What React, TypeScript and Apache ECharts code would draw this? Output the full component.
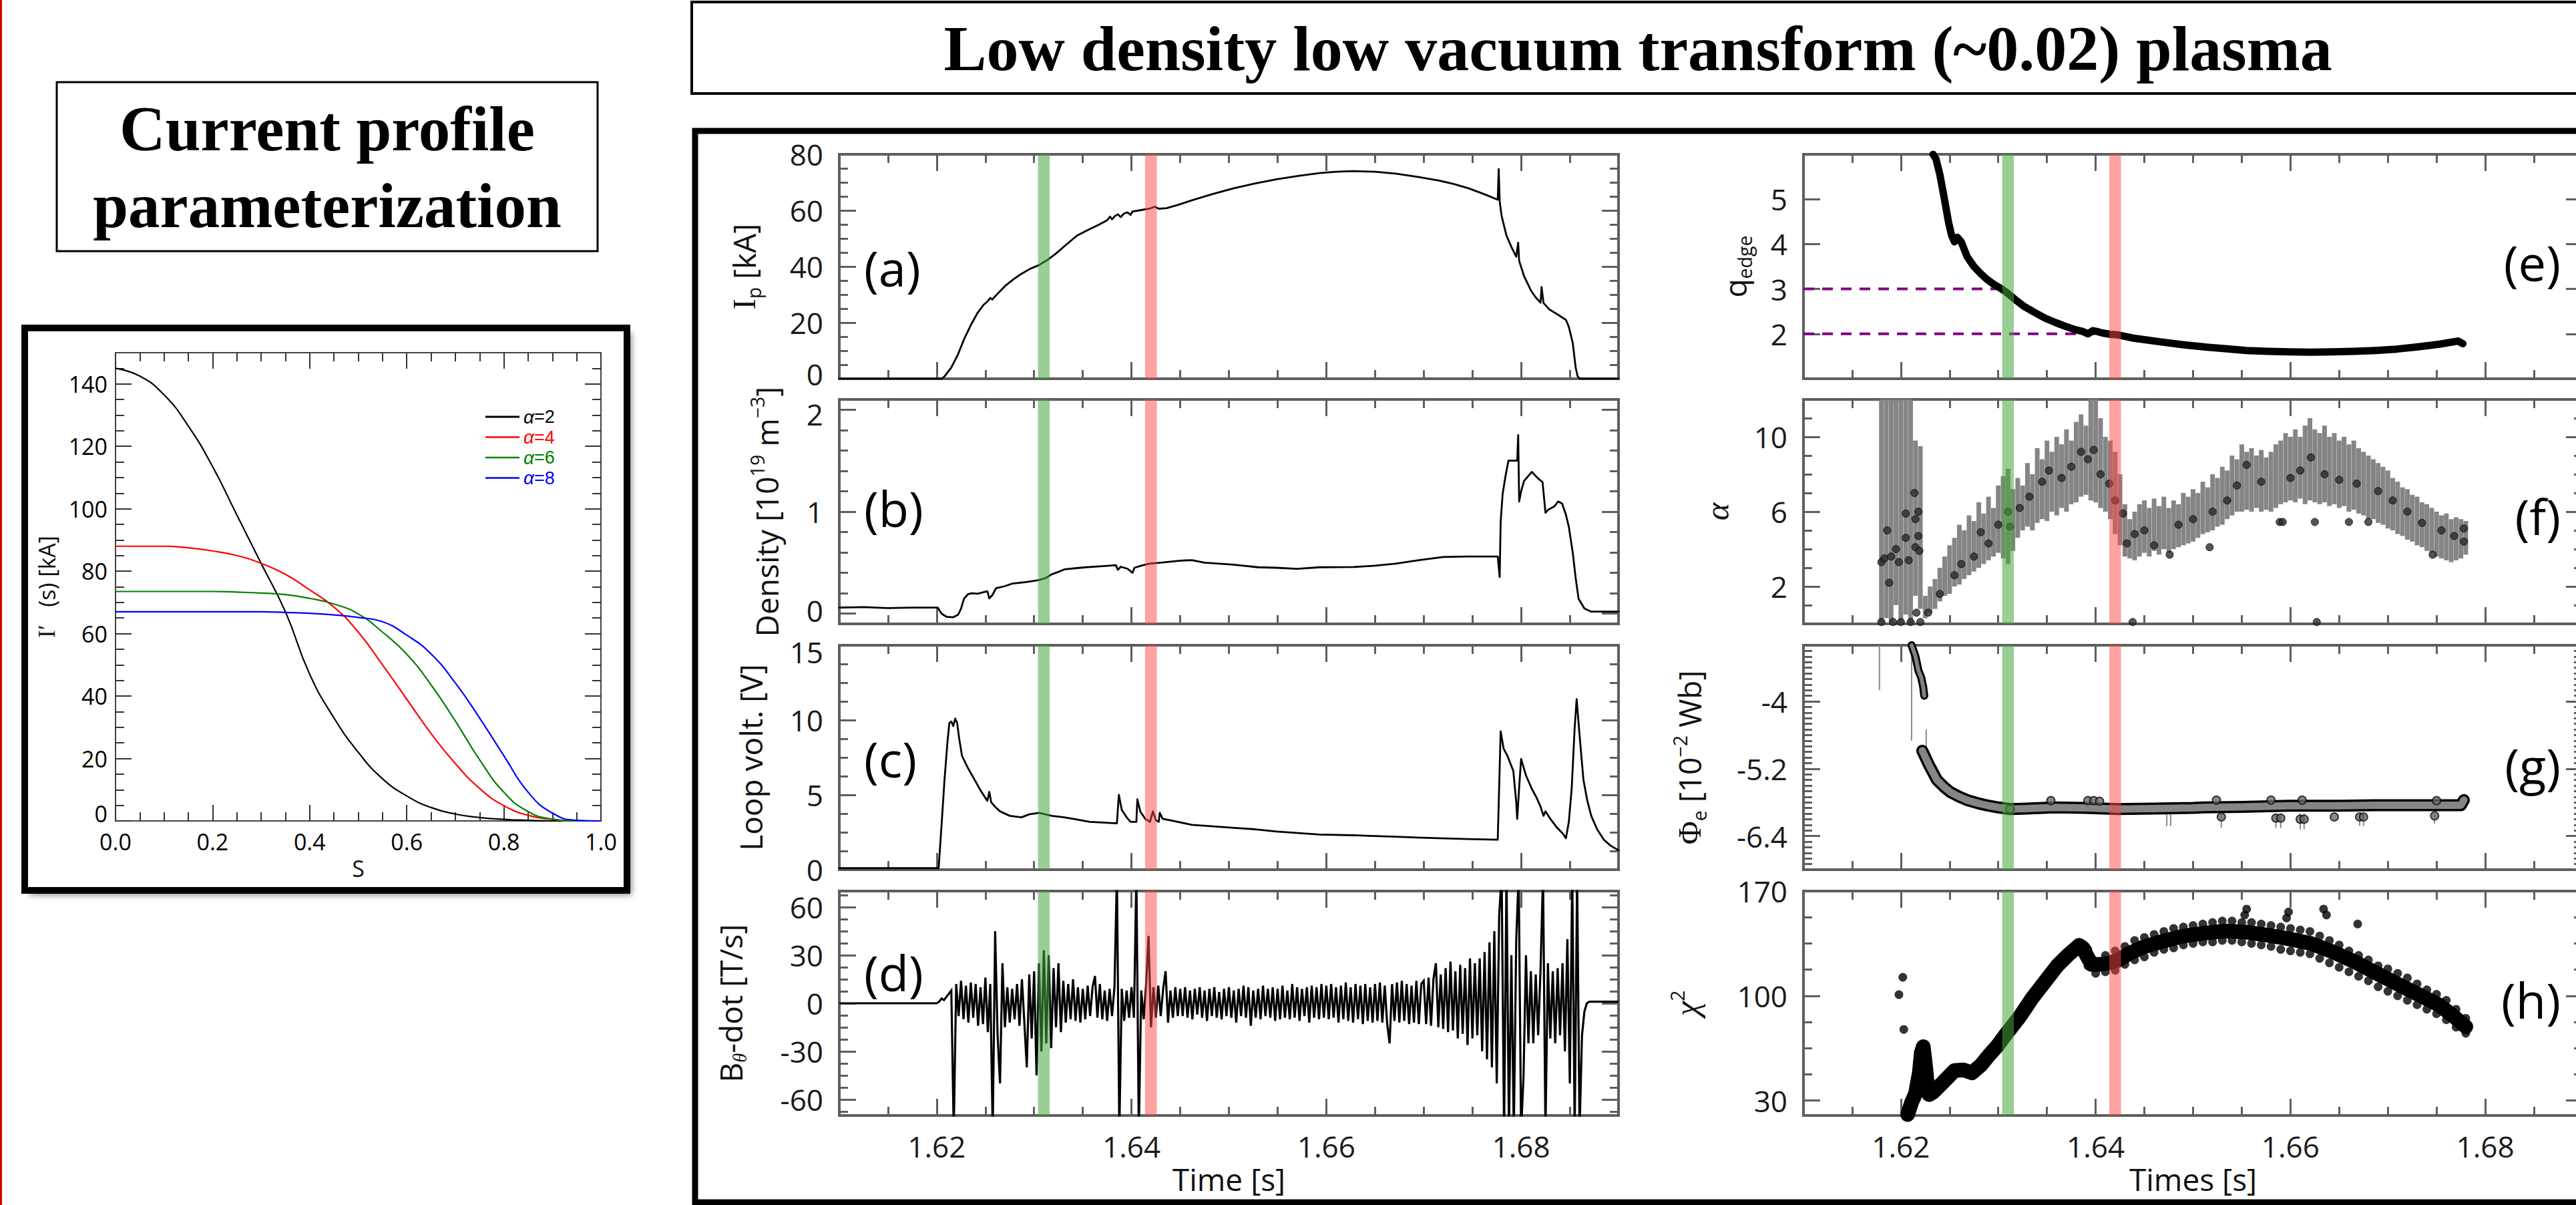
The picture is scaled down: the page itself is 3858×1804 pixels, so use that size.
import React, { useEffect, useRef } from 'react';
import * as echarts from 'echarts';

const W = 3858;
const H = 1804;

// ---------------- Inset: current profile parameterization ----------------
const sValues = [0, 0.05, 0.1, 0.15, 0.2, 0.25, 0.3, 0.35, 0.4, 0.45, 0.5, 0.55, 0.6, 0.65, 0.7, 0.75, 0.8, 0.85, 0.9, 0.95, 1.0];
const profileAlpha2 = [145, 142.5, 136.5, 126.5, 113.5, 98, 82.5, 67, 47, 33, 22, 13.5, 8, 4.3, 2.2, 1.1, 0.5, 0.2, 0, 0, 0];
const profileAlpha4 = [88, 88, 88, 87.5, 86.5, 85, 82.5, 79, 74, 68.5, 60.5, 50, 39, 28, 18.4, 10.4, 4.9, 1.8, 0.5, 0, 0];
const profileAlpha6 = [73.5, 73.5, 73.5, 73.5, 73.5, 73.3, 73, 72.5, 71.3, 69.5, 66.3, 60.5, 53.4, 43.6, 32, 19.6, 9.2, 3, 0.6, 0, 0];
const profileAlpha8 = [67, 67, 67, 67, 67, 67, 67, 66.8, 66.5, 66, 65.2, 63.8, 59.5, 53.5, 44.2, 33, 20.9, 9.2, 2.5, 0.2, 0];
const profileNames = ['α=2', 'α=4', 'α=6', 'α=8'];
const profileColors = ['#000000', '#ff0000', '#008000', '#0000ff'];

// ---------------- (a) plasma current [kA] ----------------
const ipTrace = [[1.61,0],[1.6205,0],[1.6208,0.8],[1.6215,4],[1.6222,8.8],[1.6228,14],[1.6235,19.1],[1.6242,23.5],[1.6248,26.3],[1.6252,27.5],[1.6255,28.8],[1.6257,28.2],[1.6259,29.0],[1.6263,30.5],[1.627,33],[1.6279,35.5],[1.6287,37.4],[1.6296,39.2],[1.6305,40.5],[1.6313,42.2],[1.6322,44.5],[1.6333,47.8],[1.6344,51],[1.6355,53],[1.6366,54.8],[1.6375,56.5],[1.6378,57.8],[1.638,56.8],[1.6383,58],[1.6386,58.6],[1.6389,57.6],[1.6392,58.8],[1.6396,59.3],[1.6399,58.4],[1.6401,59.6],[1.6408,60],[1.6418,60.6],[1.6424,61.3],[1.6428,60.6],[1.6436,60.8],[1.6448,62],[1.6462,63.6],[1.6483,65.8],[1.6505,67.9],[1.6527,69.6],[1.6549,71.1],[1.6571,72.3],[1.6593,73.3],[1.661,73.8],[1.6628,74],[1.665,73.8],[1.6671,73.1],[1.6693,72.0],[1.6715,70.7],[1.673,69.5],[1.6746,67.9],[1.6762,65.8],[1.6776,63.8],[1.6777,74.7],[1.6778,63.2],[1.678,58],[1.6785,51],[1.679,47],[1.6795,43.5],[1.6797,48.5],[1.6798,42],[1.6803,36.6],[1.681,31.5],[1.6815,29],[1.682,27.1],[1.6821,32.7],[1.6823,27],[1.6829,24.7],[1.6838,22.8],[1.6846,21],[1.6849,18.5],[1.6853,12.8],[1.6856,4],[1.6858,0.9],[1.686,0],[1.69,0]];

// ---------------- (b) density [1e19 m^-3] ----------------
const densityTrace = [[1.61,0.06],[1.6125,0.065],[1.615,0.055],[1.6175,0.06],[1.6201,0.06],[1.6205,0.0],[1.621,-0.03],[1.6217,-0.035],[1.6222,-0.01],[1.6225,0.05],[1.6228,0.146],[1.6232,0.19],[1.6236,0.2],[1.6242,0.195],[1.6248,0.21],[1.6252,0.22],[1.6254,0.15],[1.6257,0.18],[1.6261,0.25],[1.627,0.27],[1.6278,0.296],[1.6292,0.31],[1.6305,0.33],[1.6312,0.35],[1.6318,0.385],[1.6325,0.41],[1.6331,0.434],[1.6342,0.445],[1.6353,0.455],[1.637,0.465],[1.6384,0.475],[1.6386,0.43],[1.6389,0.46],[1.6396,0.44],[1.6401,0.4],[1.6403,0.45],[1.641,0.47],[1.6418,0.49],[1.643,0.5],[1.645,0.52],[1.6462,0.525],[1.6475,0.5],[1.6505,0.48],[1.653,0.455],[1.6549,0.45],[1.657,0.44],[1.6593,0.455],[1.6628,0.457],[1.665,0.47],[1.6671,0.49],[1.6695,0.525],[1.672,0.555],[1.6745,0.56],[1.6776,0.56],[1.6778,0.36],[1.6779,0.9],[1.6781,1.17],[1.6784,1.35],[1.6787,1.5],[1.6796,1.5],[1.6797,1.75],[1.6798,1.1],[1.68,1.2],[1.6803,1.3],[1.6811,1.39],[1.6817,1.33],[1.6822,1.29],[1.6825,0.99],[1.6828,1.02],[1.6834,1.05],[1.6838,1.1],[1.6842,1.08],[1.6846,0.97],[1.6849,0.85],[1.6853,0.6],[1.6856,0.35],[1.6859,0.146],[1.6865,0.05],[1.6872,0.02],[1.69,0.02]];

// ---------------- (c) loop voltage [V] ----------------
const loopTrace = [[1.61,0.1],[1.6202,0.1],[1.6205,3],[1.6208,6],[1.6211,8.5],[1.6213,9.8],[1.6215,9.9],[1.6217,9.6],[1.6219,10.1],[1.6221,9.8],[1.6223,8.8],[1.6226,7.6],[1.6232,6.8],[1.6239,6.0],[1.6245,5.3],[1.6252,4.6],[1.6254,5.2],[1.6256,4.5],[1.626,4.2],[1.6265,3.9],[1.6275,3.6],[1.6287,3.5],[1.6295,3.7],[1.6305,3.8],[1.6318,3.6],[1.6331,3.5],[1.6344,3.35],[1.6357,3.2],[1.637,3.15],[1.6385,3.1],[1.6387,5.0],[1.639,4.0],[1.6395,3.5],[1.6399,3.2],[1.6405,3.2],[1.6406,4.7],[1.6409,3.9],[1.6414,3.4],[1.6419,3.2],[1.6422,3.9],[1.6425,3.3],[1.6428,3.2],[1.6429,3.8],[1.6432,3.4],[1.644,3.3],[1.6462,3.0],[1.6484,2.9],[1.6505,2.8],[1.6527,2.7],[1.6549,2.55],[1.6571,2.45],[1.6593,2.35],[1.6628,2.3],[1.665,2.25],[1.6671,2.2],[1.6693,2.15],[1.6715,2.1],[1.6745,2.05],[1.6776,2.0],[1.6779,9.25],[1.6782,8.1],[1.6786,7.6],[1.6792,6.6],[1.6795,4.5],[1.6796,3.4],[1.6798,5.5],[1.68,7.4],[1.6805,6.3],[1.6811,5.4],[1.6816,4.8],[1.682,4.2],[1.6823,3.6],[1.6825,3.9],[1.683,3.4],[1.6837,2.8],[1.6843,2.4],[1.6846,2.1],[1.6849,3.2],[1.6852,5.5],[1.6855,9.5],[1.6857,11.4],[1.686,9.0],[1.6864,6.0],[1.6868,4.6],[1.6872,3.6],[1.6878,2.7],[1.6885,2.0],[1.6892,1.6],[1.69,1.3]];

// ---------------- (d) B_theta-dot [T/s], sampled every 0.25 ms from 1.620 s ----------------
const bdotLead = [[1.61, 0], [1.6195, 0]];
const bdotStart = 1.62;
const bdotStep = 0.00025;
const bdotValues = [
  0, 1, 3, 2, 4, 6, 8, -80, 12, -8, 14, -10, 11, -12, 13, -9, 12, -14, 10, -13,
  16, -18, 12, -80, 45, -20, -50, 25, -15, 10, -12, 9, -10, 12, -14, 15, -12, -40, 18, -22,
  20, -45, 25, -30, 33, -25, 30, -28, 22, -15, 25, -18, 14, -12, 12, -10, 15, -11, 10, -12,
  9, -10, 11, -8, 10, 17, -9, 12, -10, 8, -11, 9, -8, 10, 80, -80, 9, -11, 8, -9,
  10, -9, 80, -80, 8, -10, 12, 42, -15, 10, -9, 11, -8, 9, 20, -12, 8, -9, 10, -8,
  9, -8, 10, -9, 8, -10, 9, -7, 10, -9, 8, -11, 9, -8, 10, -9, 7, -10, 9, -8,
  10, -9, 8, -12, 9, -8, 11, -9, 10, -14, 8, -9, 9, -10, 11, -8, 9, -9, 10, -11,
  9, -10, 11, -9, 8, -10, 12, -9, 10, -11, 9, -8, 10, -12, 11, -9, 10, -10, 12, -9,
  11, -10, 12, -9, 10, -12, 11, -10, 13, -11, 10, -12, 12, -10, 11, -13, 12, -11, 10, -12,
  12, -11, 13, -12, 11, -13, -25, 12, -11, 13, -12, 14, -11, 12, -13, 11, -12, 14, -13, 12,
  14, -13, 16, -14, 15, 25, -15, 18, -16, 22, -18, 26, -17, 20, -22, 24, -19, 22, -26, 28,
  -22, 25, -20, 28, -30, 32, -35, 38, -40, 45, -50, 55, 80, -80, 80, -80, 30, -80, 40, 80,
  -80, -45, 30, -25, 20, -25, 18, -20, 22, 80, -80, 25, -22, 20, -25, 22, -20, 25, -30, 40,
  -50, 80, -80, 80, -80, -20, -5, 0, 1, 1, 1, 1, 1, 1, 1, 1, 1, 1, 1, 1, 1,
];

// ---------------- (e) q_edge ----------------
const qTrace = [[1.6233,6.0],[1.6236,5.9],[1.624,5.55],[1.6244,5.09],[1.6249,4.48],[1.6252,4.2],[1.6255,4.05],[1.6258,4.15],[1.6262,4.05],[1.6268,3.72],[1.6275,3.5],[1.6282,3.34],[1.6288,3.22],[1.6295,3.11],[1.6302,3.02],[1.6308,2.93],[1.6317,2.77],[1.6326,2.62],[1.6337,2.48],[1.6348,2.35],[1.6359,2.25],[1.637,2.16],[1.6378,2.1],[1.6387,2.05],[1.6392,2.0],[1.6397,2.07],[1.6402,2.05],[1.6407,2.02],[1.6415,1.99],[1.6422,1.98],[1.644,1.9],[1.6467,1.82],[1.6489,1.76],[1.6511,1.71],[1.6533,1.67],[1.6555,1.63],[1.6577,1.61],[1.6599,1.6],[1.6621,1.59],[1.6643,1.6],[1.6665,1.61],[1.6687,1.63],[1.6709,1.66],[1.6731,1.71],[1.6753,1.77],[1.6772,1.84],[1.6777,1.78]];
const q3Line = [[1.61, 3], [1.6305, 3]];
const q2Line = [[1.61, 2], [1.6418, 2]];

// ---------------- (f) alpha with error bars, every 0.5 ms from 1.618 s ----------------
const alphaStart = 1.618;
const alphaStep = 0.0005;
const alphaLow = [0,0.3,0,1.0,0,0.5,0,1.5,0.8,0.3, 0.6,0.8,1.2,1.5,1.6,2.0,2.1,2.4,2.6,2.8, 3.0,3.2,3.4,3.6,3.8,3.5,3.2,3.9,4.6,5.0, 5.2,5.0,5.4,5.6,5.5,6.0,5.8,6.2,6.0,6.4, 6.5,6.8,6.9,6.6,6.5,6.2,6.0,5.6,4.8,4.2, 3.6,3.5,3.4,3.6,3.8,3.6,3.9,3.7,4.0,3.8, 4.0,4.1,4.2,4.3,4.4,4.6,4.8,4.9,5.0,5.2, 5.3,5.6,5.8,6.0,6.0,6.1,6.0,6.2,6.0,6.1, 6.0,6.2,6.4,6.5,6.6,6.5,6.7,6.4,6.6,6.5, 6.4,6.5,6.3,6.4,6.2,6.3,6.0,6.1,5.9,5.8, 5.6,5.6,5.4,5.3,5.1,5.0,4.8,4.7,4.5,4.4, 4.2,4.1,3.9,3.8,3.6,3.5,3.4,3.3,3.4,3.5, 3.7];
const alphaHigh = [13,13,13,13,13,13,13,9.8,9.5,1.5, 2.0,2.4,3.0,3.6,4.2,4.6,5.3,5.0,5.8,5.5, 6.5,5.9,6.8,6.2,7.4,7.9,8.3,7.2,7.8,7.4, 8.6,8.0,9.4,8.8,9.8,9.2,10.0,9.6,10.4,9.8, 10.8,11.2,10.6,12.5,12.5,11.0,10.0,9.8,9.2,8.0, 6.4,5.6,6.0,6.4,6.6,6.2,6.7,6.3,6.8,6.2, 6.6,6.4,7.0,6.8,7.2,7.0,7.6,7.3,8.0,7.8, 8.4,8.2,9.0,8.8,9.6,9.2,9.4,9.0,9.3,8.9, 9.2,9.6,9.8,10.2,10.0,10.4,10.0,10.6,11.0,10.4, 10.2,10.6,10.0,10.2,9.8,10.0,9.6,9.8,9.4,9.2, 9.0,8.8,8.6,8.4,8.2,7.8,7.6,7.3,7.2,6.9, 6.8,6.5,6.4,6.2,6.0,5.8,5.9,5.6,5.7,5.6, 5.5];
const alphaDots = [[1.618,3.3],[1.618,0.1],[1.6183,3.5],[1.6186,5.0],[1.6188,2.2],[1.619,3.6],[1.6192,0.1],[1.6195,4.0],[1.6198,3.3],[1.62,0.1],[1.6205,5.9],[1.6205,4.6],[1.6208,3.4],[1.621,0.1],[1.6214,7.0],[1.6215,5.6],[1.6215,4.1],[1.6216,0.6],[1.6218,6.0],[1.6218,4.7],[1.6219,3.9],[1.622,0.1],[1.6228,0.6],[1.624,1.6],[1.6255,2.6],[1.6262,3.2],[1.6275,3.6],[1.6282,4.9],[1.629,4.3],[1.63,5.3],[1.631,6.0],[1.6312,5.2],[1.6322,6.2],[1.6332,6.8],[1.6345,7.6],[1.6352,8.2],[1.6365,7.8],[1.6375,8.4],[1.6385,9.2],[1.6392,8.8],[1.6398,9.3],[1.6405,8.0],[1.6414,7.5],[1.642,6.6],[1.6428,5.9],[1.6432,4.3],[1.6438,0.1],[1.644,4.8],[1.645,5.0],[1.646,4.2],[1.6476,3.7],[1.6485,5.3],[1.65,5.6],[1.6517,4.1],[1.652,6.0],[1.6535,6.6],[1.6545,7.4],[1.6555,8.5],[1.657,7.6],[1.6589,5.45],[1.6592,5.45],[1.66,7.8],[1.661,8.2],[1.6621,8.9],[1.6625,5.45],[1.6627,0.1],[1.6635,8.0],[1.665,7.7],[1.666,5.45],[1.6668,7.5],[1.668,5.45],[1.669,7.1],[1.6705,6.6],[1.672,6.0],[1.6735,5.4],[1.6746,3.7],[1.6755,5.0],[1.6768,4.7],[1.6778,4.4],[1.6778,5.1]];

// ---------------- (g) Phi_e [1e-2 Wb] ----------------
const phiEarly = [[1.6211,-3.0],[1.6215,-3.2],[1.6218,-3.45],[1.6221,-3.58],[1.6223,-3.75],[1.6224,-3.9]];
const phiMain = [[1.6222,-4.88],[1.6229,-5.14],[1.6237,-5.4],[1.6244,-5.52],[1.6251,-5.62],[1.626,-5.7],[1.6268,-5.76],[1.628,-5.82],[1.629,-5.86],[1.63,-5.89],[1.6312,-5.92],[1.633,-5.91],[1.6357,-5.89],[1.639,-5.9],[1.6422,-5.92],[1.646,-5.91],[1.65,-5.9],[1.6511,-5.89],[1.655,-5.88],[1.6599,-5.86],[1.665,-5.86],[1.6687,-5.85],[1.673,-5.85],[1.6775,-5.85],[1.6778,-5.76]];
const phiDots = [[1.6354,-5.77],[1.6392,-5.77],[1.6398,-5.77],[1.6404,-5.78],[1.6524,-5.76],[1.658,-5.76],[1.6612,-5.76],[1.675,-5.77],[1.6529,-6.06],[1.6585,-6.08],[1.659,-6.08],[1.661,-6.1],[1.6614,-6.1],[1.6645,-6.06],[1.6671,-6.06],[1.6675,-6.06],[1.6748,-6.04],[1.6312,-5.92]];
const phiBars = [[1.6178,-3.0,-3.8],[1.6211,-3.0,-4.7],[1.6226,-4.5,-5.0],[1.6473,-5.9,-6.22],[1.6477,-5.9,-6.22],[1.6529,-6.0,-6.25],[1.6585,-6.0,-6.26],[1.659,-6.0,-6.26],[1.661,-6.0,-6.28],[1.6614,-6.0,-6.28],[1.6671,-6.0,-6.22],[1.6675,-6.0,-6.22],[1.6748,-6.0,-6.18]];

// ---------------- (h) chi^2 ----------------
const chiLine = [[1.6207,20.7],[1.6211,28.7],[1.6215,34.5],[1.6219,48.7],[1.6221,62],[1.6223,66],[1.6225,55],[1.6227,42],[1.6229,34],[1.6233,35.5],[1.6237,38],[1.6246,44],[1.6255,50],[1.6264,50.5],[1.6273,48.5],[1.6282,53.5],[1.629,59.9],[1.6299,66.5],[1.6308,74.4],[1.6322,86],[1.6335,98.6],[1.6348,109.5],[1.6361,120.4],[1.6372,127.5],[1.6383,133.7],[1.6387,132],[1.639,127.8],[1.6396,121],[1.6405,121],[1.6414,122],[1.6422,123.5],[1.6435,128.5],[1.6449,132.6],[1.6469,136.5],[1.6489,139.8],[1.6511,141.8],[1.6533,143.3],[1.6555,142.5],[1.6577,140.5],[1.6599,138],[1.6621,135],[1.6643,129.5],[1.6665,123],[1.6687,115.5],[1.6709,108.2],[1.6731,101],[1.6753,93.7],[1.6768,86],[1.678,79.3]];
const chiDots = [[1.6198,100.8],[1.6202,112.4],[1.6203,77.5],[1.6392,131],[1.6392,120],[1.64,115],[1.641,127],[1.641,116],[1.642,130],[1.642,117],[1.643,133],[1.643,121],[1.644,137],[1.644,124],[1.645,139],[1.645,126],[1.646,141],[1.646,129],[1.647,143],[1.647,131],[1.648,145],[1.648,132],[1.649,146],[1.649,134],[1.65,147],[1.65,135],[1.651,148],[1.651,136],[1.652,149],[1.652,136],[1.653,150],[1.653,137],[1.654,150],[1.654,137],[1.655,149],[1.655,136],[1.6555,158],[1.6553,154],[1.656,149],[1.656,135],[1.657,148],[1.657,134],[1.658,147],[1.658,133],[1.659,146],[1.659,131],[1.6598,156],[1.6596,152],[1.66,145],[1.66,130],[1.661,144],[1.661,129],[1.662,143],[1.662,128],[1.663,140],[1.663,125],[1.6634,158],[1.6637,154],[1.664,137],[1.664,122],[1.665,134],[1.665,119],[1.666,130],[1.666,116],[1.6669,148],[1.667,127],[1.667,113],[1.668,124],[1.668,110],[1.669,120],[1.669,106],[1.67,118],[1.67,103],[1.671,115],[1.671,100],[1.672,112],[1.672,97],[1.673,108],[1.673,94],[1.674,104],[1.674,91],[1.675,101],[1.675,88],[1.676,97],[1.676,84],[1.677,91],[1.677,79],[1.678,85],[1.678,75]];

// ---------------- marked time slices ----------------
const bandRows = [[1.6304, 1.6316, 0], [1.6414, 1.6426, 1]];
const bandColors = ['rgba(70,165,60,0.55)', 'rgba(255,70,70,0.5)'];

// ---------------- ticks ----------------
function steps(a: number, b: number, d: number): number[] {
  const n = Math.round((b - a) / d);
  const out: number[] = [];
  for (let i = 0; i <= n; i++) out.push(Math.round((a + i * d) * 1e6) / 1e6);
  return out;
}
const timeMajors = [1.62, 1.64, 1.66, 1.68];
const timeMinors = steps(1.615, 1.685, 0.005);

function sampled(t0: number, dt: number, vals: number[]): number[][] {
  return vals.map((v, i) => [Math.round((t0 + i * dt) * 1e6) / 1e6, v]);
}

const FONT = 'Open Sans';
const SERIF = 'Liberation Serif';
const LEGEND_FONT = 'Liberation Sans';

// edge labels nudged a little so that neighbouring panels' labels don't collide
function nudged(shifts: any) {
  return (v: number) => {
    const key = String(v);
    if (shifts[key] === undefined) return key;
    return `{${shifts[key] < 0 ? 'u' : 'd'}${Math.abs(shifts[key])}|${key}}`;
  };
}
function nudgeRich(shifts: any, size: number) {
  const rich: any = {};
  Object.keys(shifts).forEach((k) => {
    const s = shifts[k];
    const name = `${s < 0 ? 'u' : 'd'}${Math.abs(s)}`;
    rich[name] = { fontSize: size, fontFamily: FONT, padding: s < 0 ? [0, 0, -2 * s, 0] : [2 * s, 0, 0, 0] };
  });
  return rich;
}

function nameRich(size: number) {
  return {
    n: { fontSize: size, fontFamily: FONT, color: '#111', lineHeight: size * 1.25 },
    s: { fontSize: size * 1.05, fontFamily: SERIF, color: '#111', lineHeight: size * 1.25 },
    i: { fontSize: size * 1.1, fontFamily: SERIF, fontStyle: 'italic', color: '#111', lineHeight: size * 1.25 },
    sub: { fontSize: size * 0.62, fontFamily: FONT, color: '#111', verticalAlign: 'bottom', lineHeight: size * 0.62 },
    subi: { fontSize: size * 0.62, fontFamily: SERIF, fontStyle: 'italic', color: '#111', verticalAlign: 'bottom', lineHeight: size * 0.62 },
    sup: { fontSize: size * 0.62, fontFamily: FONT, color: '#111', verticalAlign: 'top', lineHeight: size * 0.62 },
  };
}

function buildAxes(dim: string, gridIndex: number, spec: any, o: any) {
  const near = dim === 'x' ? 'bottom' : 'left';
  const far = dim === 'x' ? 'top' : 'right';
  const base = {
    type: 'value', gridIndex, min: spec.min, max: spec.max,
    axisLine: { show: false, onZero: false },
    splitLine: { show: false }, minorTick: { show: false }, minorSplitLine: { show: false },
    silent: true,
  };
  const tickStyle = { color: o.tickColor, width: o.tickWidth };
  const major = (position: string, withLabels: boolean) => {
    const shifts = spec.shifts || {};
    const fmt = spec.fmt ? spec.fmt : nudged(shifts);
    const ax: any = {
      ...base, position,
      axisTick: { show: true, inside: true, length: o.majorLen, customValues: spec.majors, lineStyle: tickStyle },
      axisLabel: withLabels && spec.labels && spec.labels.length
        ? { show: true, customValues: spec.labels, formatter: fmt, margin: spec.margin || o.labelMargin, color: o.labelColor, fontSize: o.labelSize, fontFamily: FONT, rich: nudgeRich(shifts, o.labelSize) }
        : { show: false },
    };
    if (withLabels && spec.name) {
      ax.name = spec.name;
      ax.nameLocation = 'middle';
      ax.nameGap = spec.nameGap;
      ax.nameTextStyle = { rich: nameRich(o.nameSize), fontSize: o.nameSize, fontFamily: FONT, color: '#111' };
    }
    return ax;
  };
  const minor = (position: string) => ({
    ...base, position,
    axisTick: { show: spec.minors.length > 0, inside: true, length: o.minorLen, customValues: spec.minors.length ? spec.minors : [spec.min], lineStyle: tickStyle },
    axisLabel: { show: false },
  });
  return [major(near, true), minor(near), major(far, false), minor(far)];
}

function buildOption() {
  const grids: any[] = [];
  const xAxes: any[] = [];
  const yAxes: any[] = [];
  const series: any[] = [];

  const panelOpts = { tickColor: '#5e5e5e', tickWidth: 3, majorLen: 25, minorLen: 13, labelMargin: 24, labelColor: '#1a1a1a', labelSize: 44, nameSize: 46 };
  const insetOpts = { tickColor: '#333', tickWidth: 2, majorLen: 24, minorLen: 13, labelMargin: 12, labelColor: '#000', labelSize: 34, nameSize: 34 };

  function addGrid(rect: number[], xs: any, ys: any, o: any, border: any) {
    const g = grids.length;
    grids.push({ left: rect[0], top: rect[1], width: rect[2], height: rect[3], show: true, borderColor: border.color, borderWidth: border.width, backgroundColor: 'transparent', containLabel: false, outerBoundsMode: 'none' });
    xAxes.push(...buildAxes('x', g, xs, o));
    yAxes.push(...buildAxes('y', g, ys, o));
    return { xAxisIndex: 4 * g, yAxisIndex: 4 * g };
  }

  const line = (ax: any, data: any, width: number, extra: any = {}) => ({
    type: 'line', ...ax, data, showSymbol: false, symbol: 'none', clip: true, silent: true,
    lineStyle: { color: '#000', width, join: 'round', cap: 'round' }, z: 3, ...extra,
  });
  const dots = (ax: any, data: any, size: number, color: string, border: string, bw: number) => ({
    type: 'scatter', ...ax, data, symbol: 'circle', symbolSize: size, clip: true, silent: true,
    itemStyle: { color, borderColor: border, borderWidth: bw }, z: 4,
  });
  const errorBars = (ax: any, rows: any, color: string, width: number) => ({
    type: 'custom', ...ax, data: rows, clip: true, silent: true, z: 3,
    renderItem: (params: any, api: any) => {
      const a = api.coord([api.value(0), api.value(1)]);
      const b = api.coord([api.value(0), api.value(2)]);
      return { type: 'line', shape: { x1: a[0], y1: a[1], x2: b[0], y2: b[1] }, style: { stroke: color, lineWidth: width } };
    },
  });
  const bands = (ax: any) => ({
    type: 'custom', ...ax, data: bandRows, silent: true, z: 10,
    renderItem: (params: any, api: any) => {
      const cs = params.coordSys;
      const x0 = api.coord([api.value(0), 0])[0];
      const x1 = api.coord([api.value(1), 0])[0];
      return { type: 'rect', shape: { x: x0, y: cs.y, width: x1 - x0, height: cs.height }, style: { fill: bandColors[api.value(2)] } };
    },
  });

  // ---- inset
  const insetAx = addGrid([173, 528, 727, 701],
    { min: 0, max: 1, majors: steps(0, 1, 0.2), minors: steps(0.05, 0.95, 0.05), labels: steps(0, 1, 0.2), fmt: (v: number) => v.toFixed(1), margin: 14, name: '{n|S}', nameGap: 50 },
    { min: 0, max: 150, majors: steps(0, 140, 20), minors: steps(5, 145, 5), labels: steps(0, 140, 20), shifts: { '0': -11 }, name: '{s|I′}{n|   (s) [kA]}', nameGap: 82 },
    insetOpts, { color: '#444', width: 2 });
  [profileAlpha2, profileAlpha4, profileAlpha6, profileAlpha8].forEach((vals, k) => {
    series.push({
      type: 'line', name: profileNames[k], ...insetAx, data: sValues.map((s, i) => [s, vals[i]]),
      smooth: true, showSymbol: false, symbol: 'none', silent: true,
      lineStyle: { color: profileColors[k], width: 2.2 }, itemStyle: { color: profileColors[k] },
    });
  });

  // ---- main panels
  const rows = [231, 598, 966, 1334];
  const rowH = 336;
  const colL = 1257;
  const colR = 2701;
  const colW = 1167;
  const tX = (bottom: boolean, nm: string) => ({ min: 1.61, max: 1.69, majors: timeMajors, minors: timeMinors, labels: bottom ? timeMajors : [], name: bottom ? nm : undefined, nameGap: 66 });
  const border = { color: '#5e5e5e', width: 4 };

  const aAx = addGrid([colL, rows[0], colW, rowH], tX(false, ''),
    { min: 0, max: 80, majors: [0, 20, 40, 60, 80], minors: steps(5, 75, 5), labels: [0, 20, 40, 60, 80], shifts: { '0': -7 }, name: '{s|I}{sub|p}{n| [kA]}', nameGap: 114 }, panelOpts, border);
  series.push(line(aAx, ipTrace, 2.8), bands(aAx));

  const bAx = addGrid([colL, rows[1], colW, rowH], tX(false, ''),
    { min: -0.1, max: 2.1, majors: [0, 1, 2], minors: steps(0.2, 1.8, 0.2), labels: [0, 1, 2], shifts: { '2': 7, '0': -5 }, name: '{n|Density [10}{sup|19}{n| m}{sup|−3}{n|]}', nameGap: 80 }, panelOpts, border);
  series.push(line(bAx, densityTrace, 2.8), bands(bAx));

  const cAx = addGrid([colL, rows[2], colW, rowH], tX(false, ''),
    { min: 0, max: 15, majors: [0, 5, 10, 15], minors: steps(1.25, 13.75, 1.25), labels: [0, 5, 10, 15], shifts: { '15': 10 }, name: '{n|Loop volt. [V]}', nameGap: 104 }, panelOpts, border);
  series.push(line(cAx, loopTrace, 2.8), bands(cAx));

  const dAx = addGrid([colL, rows[3], colW, rowH], tX(true, '{n|Time [s]}'),
    { min: -70, max: 70, majors: [-60, -30, 0, 30, 60], minors: steps(-67.5, 67.5, 7.5), labels: [-60, -30, 0, 30, 60], name: '{n|B}{subi|θ}{n|-dot [T/s]}', nameGap: 134 }, panelOpts, border);
  series.push(line(dAx, bdotLead.concat(sampled(bdotStart, bdotStep, bdotValues)), 3.2, { lineStyle: { color: '#000', width: 3.2, join: 'miter', cap: 'butt' } }), bands(dAx));

  const eAx = addGrid([colR, rows[0], colW, rowH], tX(false, ''),
    { min: 1, max: 6, majors: [2, 3, 4, 5], minors: [], labels: [2, 3, 4, 5], name: '{n|q}{sub|edge}', nameGap: 74 }, panelOpts, border);
  const dashed = { lineStyle: { color: '#800080', width: 4, type: [16, 12] }, z: 2 };
  series.push(line(eAx, q3Line, 4, dashed), line(eAx, q2Line, 4, dashed), line(eAx, qTrace, 11), bands(eAx));

  const fAx = addGrid([colR, rows[1], colW, rowH], tX(false, ''),
    { min: 0, max: 12, majors: [2, 6, 10], minors: steps(1, 11, 1), labels: [2, 6, 10], name: '{i|α}', nameGap: 100 }, panelOpts, border);
  const alphaRows = alphaLow.map((lo, i) => [Math.round((alphaStart + i * alphaStep) * 1e6) / 1e6, lo, alphaHigh[i]]);
  series.push(errorBars(fAx, alphaRows, '#858585', 7), dots(fAx, alphaDots, 11, '#2a2a2a', '#000', 1), bands(fAx));

  const gAx = addGrid([colR, rows[2], colW, rowH], tX(false, ''),
    { min: -7, max: -3, majors: [-6.4, -5.2, -4], minors: steps(-6.9, -3.1, 0.1), labels: [-6.4, -5.2, -4], name: '{s|Φ}{sub|e}{n| [10}{sup|−2}{n| Wb]}', nameGap: 142 }, panelOpts, border);
  series.push(
    errorBars(gAx, phiBars, '#8a8a8a', 2),
    line(gAx, phiEarly, 12), line(gAx, phiEarly, 6, { lineStyle: { color: '#808080', width: 6, cap: 'round' } }),
    line(gAx, phiMain, 18), line(gAx, phiMain, 11, { lineStyle: { color: '#858585', width: 11, cap: 'round', join: 'round' } }),
    dots(gAx, phiDots, 12, '#6a6a6a', '#111', 2), bands(gAx));

  const hAx = addGrid([colR, rows[3], colW, rowH], tX(true, '{n|Times [s]}'),
    { min: 20, max: 170, majors: [30, 100, 170], minors: [47.5, 65, 82.5, 117.5, 135, 152.5], labels: [30, 100, 170], name: '{i|χ}{sup|2}', nameGap: 146 }, panelOpts, border);
  series.push(line(hAx, chiLine, 22), dots(hAx, chiDots, 13, '#000', '#000', 0), bands(hAx));

  const panelLabels = [
    ['(a)', 1294, 400, 'left'], ['(b)', 1294, 760, 'left'], ['(c)', 1294, 1135, 'left'], ['(d)', 1294, 1455, 'left'],
    ['(e)', 3835, 392, 'right'], ['(f)', 3835, 772, 'right'], ['(g)', 3835, 1145, 'right'], ['(h)', 3835, 1496, 'right'],
  ];

  const txt = (text: string, x: number, y: number, font: string, align: string, z = 50, lineHeight?: number) => ({
    type: 'text', x, y, z, silent: true,
    style: { text, font, fill: '#000', align, verticalAlign: 'middle', textAlign: align, textVerticalAlign: 'middle', ...(lineHeight ? { lineHeight } : {}) },
  });

  // inset legend: key lines + one text per row
  const legendRowY = [624, 654.5, 685, 715.5];

  const graphic: any[] = [
    { type: 'line', z: 50, silent: true, shape: { x1: 1.5, y1: 0, x2: 1.5, y2: H }, style: { stroke: '#d40000', lineWidth: 3 } },
    { type: 'rect', z: 40, silent: true, shape: { x: 85, y: 123, width: 810, height: 253 }, style: { fill: '#fff', stroke: '#000', lineWidth: 3 } },
    txt('Current profile\nparameterization', 490, 250, `bold 95px "${SERIF}"`, 'center', 50, 115),
    { type: 'rect', z: 40, silent: true, shape: { x: 1036, y: 3, width: 2840, height: 137 }, style: { fill: '#fff', stroke: '#000', lineWidth: 4 } },
    txt('Low density low vacuum transform (~0.02) plasma', 2453, 72, `bold 96px "${SERIF}"`, 'center'),
    { type: 'rect', z: -10, silent: true, shape: { x: 37, y: 491, width: 902, height: 842 }, style: { fill: '#fff', shadowBlur: 10, shadowOffsetX: 7, shadowOffsetY: 7, shadowColor: 'rgba(0,0,0,0.45)' } },
    { type: 'rect', z: 60, silent: true, shape: { x: 37, y: 491, width: 902, height: 842 }, style: { fill: 'none', stroke: '#000', lineWidth: 10 } },
    { type: 'rect', z: 60, silent: true, shape: { x: 1041, y: 196, width: 2840, height: 1604 }, style: { fill: 'none', stroke: '#000', lineWidth: 9 } },
    ...panelLabels.map((p: any) => txt(p[0], p[1], p[2], `74px "${FONT}"`, p[3], 55)),
    ...legendRowY.map((y, k) => ({ type: 'line', z: 55, silent: true, shape: { x1: 727, y1: y, x2: 778, y2: y }, style: { stroke: profileColors[k], lineWidth: k === 0 ? 3 : 2.5 } })),
    ...legendRowY.map((y, k) => ({
      type: 'text', z: 55, silent: true, x: 784, y,
      style: {
        text: `{a|α}{b|${profileNames[k].slice(1)}}`, fill: profileColors[k], font: `27px "${LEGEND_FONT}"`,
        rich: { a: { fill: profileColors[k], fontSize: 28, fontFamily: LEGEND_FONT, fontStyle: 'italic' }, b: { fill: profileColors[k], fontSize: 27, fontFamily: LEGEND_FONT } },
        align: 'left', verticalAlign: 'middle', textAlign: 'left', textVerticalAlign: 'middle',
      },
    })),
  ];

  return {
    animation: false,
    backgroundColor: '#ffffff',
    grid: grids,
    xAxis: xAxes,
    yAxis: yAxes,
    series,
    graphic,
  };
}

export default function App() {
  const ref = useRef<HTMLDivElement | null>(null);
  useEffect(() => {
    document.body.style.margin = '0';
    if (!ref.current) return;
    const chart = echarts.init(ref.current, null, { renderer: 'svg', width: W, height: H });
    chart.setOption(buildOption() as any);
    return () => chart.dispose();
  }, []);
  return <div ref={ref} style={{ width: W, height: H, background: '#fff' }} />;
}
